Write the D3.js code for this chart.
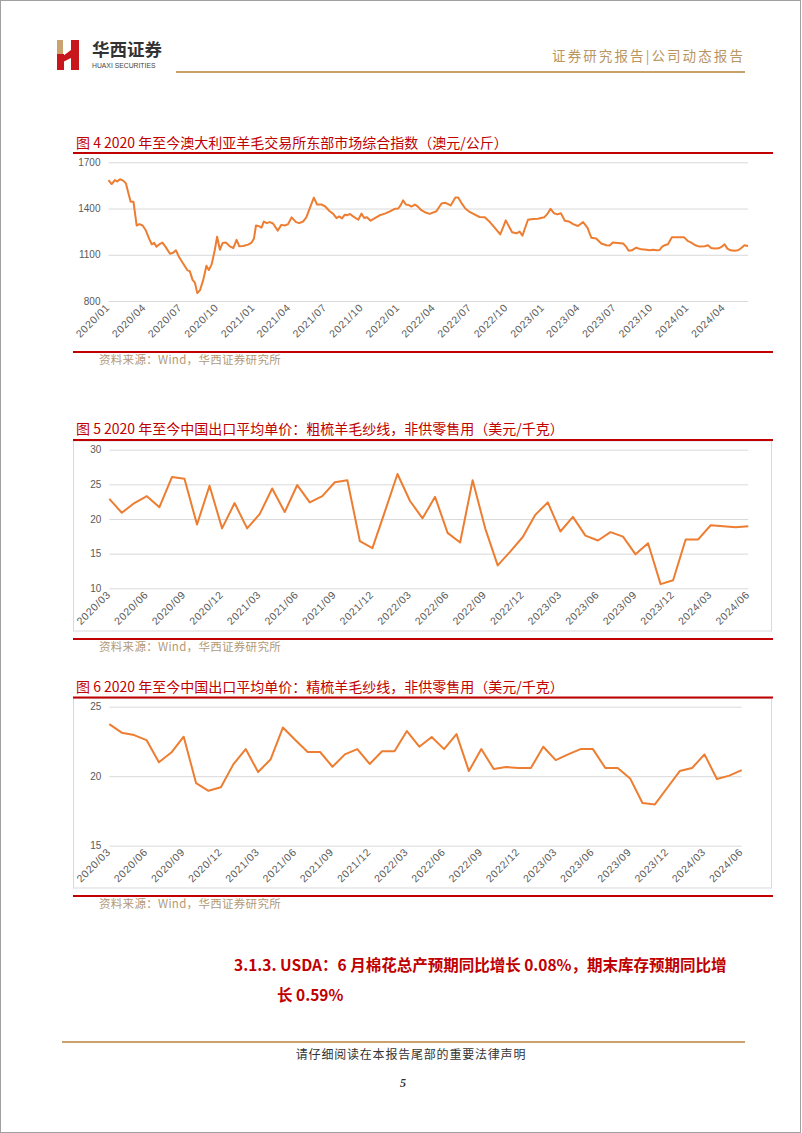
<!DOCTYPE html>
<html><head><meta charset="utf-8">
<script src="https://cdn.jsdelivr.net/npm/d3@7"></script>
<style>
html,body{margin:0;padding:0;background:#fff;}
svg{display:block;}
</style></head>
<body>
<script>
// ---------- DATA ----------
const emiDates = [
"2020-01-01","2020-01-09","2020-01-17","2020-01-23","2020-01-30","2020-02-07","2020-02-14","2020-02-22","2020-02-26","2020-03-04",
"2020-03-12","2020-03-19","2020-03-27","2020-04-04","2020-04-13","2020-04-19","2020-04-25","2020-05-01","2020-05-10","2020-05-16",
"2020-05-24","2020-06-04","2020-06-12","2020-06-19","2020-06-27","2020-07-08","2020-07-18","2020-07-24","2020-07-31","2020-08-06",
"2020-08-12","2020-08-19","2020-08-27","2020-09-04","2020-09-10","2020-09-17","2020-09-25","2020-10-01","2020-10-08","2020-10-15",
"2020-10-23","2020-11-02","2020-11-11","2020-11-19","2020-11-26","2020-12-06","2020-12-18","2020-12-27",
"2021-01-02","2021-01-07","2021-01-13","2021-01-21","2021-01-27","2021-02-03","2021-02-11","2021-02-19","2021-03-03","2021-03-12",
"2021-03-21","2021-03-29","2021-04-07","2021-04-18","2021-04-26","2021-05-06","2021-05-14","2021-05-23","2021-06-02","2021-06-10",
"2021-06-21","2021-06-30","2021-07-12","2021-07-21","2021-07-29","2021-08-05","2021-08-12","2021-08-19","2021-08-25","2021-09-01",
"2021-09-09","2021-09-22","2021-09-30","2021-10-07","2021-10-14","2021-10-23","2021-11-03","2021-11-15","2021-11-28","2021-12-11","2021-12-23",
"2022-01-01","2022-01-07","2022-01-13","2022-01-20","2022-01-28","2022-02-03","2022-02-12","2022-02-20","2022-02-28","2022-03-09",
"2022-03-21","2022-04-07","2022-04-20","2022-04-30","2022-05-13","2022-05-25","2022-06-01","2022-06-09","2022-06-19","2022-06-30",
"2022-07-13","2022-07-25","2022-08-07","2022-08-20","2022-09-01","2022-09-15","2022-09-22","2022-09-29","2022-10-05","2022-10-15",
"2022-10-26","2022-11-03","2022-11-10","2022-11-24","2022-12-07","2022-12-19",
"2023-01-04","2023-01-12","2023-01-20","2023-01-29","2023-02-06","2023-02-15","2023-02-25","2023-03-07","2023-03-18","2023-03-30",
"2023-04-12","2023-04-23","2023-05-03","2023-05-15","2023-05-28","2023-06-10","2023-06-18","2023-06-26","2023-07-09","2023-07-22",
"2023-07-30","2023-08-05","2023-08-13","2023-08-24","2023-09-06","2023-09-19","2023-09-27","2023-10-05","2023-10-14","2023-10-22",
"2023-10-28","2023-11-04","2023-11-12","2023-11-22","2023-12-07","2023-12-23",
"2024-01-02","2024-01-10","2024-01-20","2024-01-31","2024-02-13","2024-02-21","2024-02-29","2024-03-09","2024-03-19","2024-03-26",
"2024-04-03","2024-04-10","2024-04-18","2024-04-28","2024-05-07","2024-05-15","2024-05-23","2024-06-01"];
const emiValues = [
1585,1559,1585,1576,1590,1581,1563,1482,1444,1444,
1290,1299,1290,1259,1201,1168,1177,1153,1171,1179,
1151,1107,1113,1129,1085,1040,999,994,937,919,
851,871,937,1029,1001,1036,1129,1217,1133,1177,
1179,1155,1144,1197,1155,1157,1166,1179,
1206,1290,1287,1276,1316,1305,1312,1303,1257,1294,
1290,1299,1343,1312,1305,1316,1343,1404,1471,1426,
1426,1415,1382,1365,1338,1349,1336,1360,1356,1365,
1349,1327,1367,1338,1343,1321,1338,1356,1367,1382,1398,
1400,1422,1453,1426,1422,1413,1426,1411,1389,1376,
1365,1382,1433,1437,1420,1471,1471,1437,1400,1378,
1360,1345,1343,1312,1276,1232,1276,1323,1294,1246,
1239,1250,1224,1327,1332,1334,
1343,1365,1398,1369,1362,1369,1321,1316,1299,1287,
1312,1276,1210,1206,1173,1162,1160,1179,1177,1173,
1151,1126,1129,1146,1135,1133,1129,1133,1129,1131,
1151,1162,1168,1213,1213,1213,
1188,1179,1162,1153,1155,1162,1144,1140,1142,1151,
1168,1140,1129,1126,1129,1144,1162,1157];
const emiTickLabels = ["2020/01","2020/04","2020/07","2020/10","2021/01","2021/04","2021/07","2021/10","2022/01","2022/04","2022/07","2022/10","2023/01","2023/04","2023/07","2023/10","2024/01","2024/04"];
const emiYTicks = [800,1100,1400,1700];

const months = ["2020/03","2020/04","2020/05","2020/06","2020/07","2020/08","2020/09","2020/10","2020/11","2020/12",
"2021/01","2021/02","2021/03","2021/04","2021/05","2021/06","2021/07","2021/08","2021/09","2021/10","2021/11","2021/12",
"2022/01","2022/02","2022/03","2022/04","2022/05","2022/06","2022/07","2022/08","2022/09","2022/10","2022/11","2022/12",
"2023/01","2023/02","2023/03","2023/04","2023/05","2023/06","2023/07","2023/08","2023/09","2023/10","2023/11","2023/12",
"2024/01","2024/02","2024/03","2024/04","2024/05","2024/06"];
const monthTickLabels = ["2020/03","2020/06","2020/09","2020/12","2021/03","2021/06","2021/09","2021/12","2022/03","2022/06","2022/09","2022/12","2023/03","2023/06","2023/09","2023/12","2024/03","2024/06"];
const carded = [22.9,20.9,22.3,23.3,21.7,26.05,25.8,19.2,24.8,18.65,22.3,18.65,20.7,24.4,21.0,24.9,22.4,23.3,25.3,25.6,16.8,15.8,21.1,26.5,22.6,20.1,
23.2,18.0,16.6,25.6,18.65,13.3,15.3,17.4,20.6,22.4,18.2,20.3,17.6,16.9,18.1,17.45,14.9,16.5,10.6,11.15,17.05,17.05,19.1,18.95,18.8,18.95];
const cardedYTicks = [10,15,20,25,30];
const combed = [23.75,23.13,22.96,22.6,21.0,21.7,22.84,19.5,18.95,19.2,20.85,21.95,20.3,21.2,23.5,22.6,21.74,21.74,20.68,21.57,21.95,20.88,21.8,21.8,23.25,22.12,
22.82,21.95,23.03,20.37,21.95,20.52,20.66,20.59,20.59,22.12,21.16,21.57,21.95,21.95,20.59,20.59,19.84,18.07,17.97,19.17,20.37,20.59,21.57,19.8,20.04,20.44];
const combedYTicks = [15,20,25];

const titles = [
  "图 4 2020 年至今澳大利亚羊毛交易所东部市场综合指数（澳元/公斤）",
  "图 5 2020 年至今中国出口平均单价：粗梳羊毛纱线，非供零售用（美元/千克）",
  "图 6 2020 年至今中国出口平均单价：精梳羊毛纱线，非供零售用（美元/千克）"
];
const sourceText = "资料来源：Wind，华西证券研究所";

// ---------- DRAW ----------
const W = 802, H = 1133;
const RED = "#c00000", ORANGE = "#ed7d31", GRID = "#d9d9d9", TAN = "#c8a16b", AXT = "#595959";
const CJK = "'Noto Sans CJK SC','Noto Sans',sans-serif";
const SANS = "'Liberation Sans',Arial,sans-serif";

const svg = d3.select("body").append("svg").attr("width", W).attr("height", H);
svg.append("rect").attr("x",0).attr("y",0).attr("width",W).attr("height",H).attr("fill","#fff");
svg.append("rect").attr("x",0.5).attr("y",0.5).attr("width",W-2).attr("height",H-1).attr("fill","none").attr("stroke","#a0a0a0");

// header
const logo = svg.append("g");
logo.append("rect").attr("x",57).attr("y",40).attr("width",6).attr("height",16).attr("fill","#c9a46e");
logo.append("rect").attr("x",57).attr("y",54).attr("width",7).attr("height",16).attr("fill","#c8161d");
logo.append("path").attr("d","M63,56 L71,50 L71,40 L79,40 L79,70 L71,70 L71,58 L63,62 Z").attr("fill","#c8161d");
svg.append("text").attr("x",92).attr("y",56).attr("font-family",CJK).attr("font-weight",700).attr("font-size",17.5).attr("fill","#333").text("华西证券");
svg.append("text").attr("x",92).attr("y",68).attr("font-family",SANS).attr("font-size",6.8).attr("fill","#444").text("HUAXI SECURITIES");
svg.append("text").attr("x",745).attr("y",61).attr("text-anchor","end").attr("font-family",CJK).attr("font-size",13.5).attr("letter-spacing",2.1).attr("fill","#b9955f").text("证券研究报告|公司动态报告");
svg.append("line").attr("x1",176).attr("x2",745).attr("y1",72).attr("y2",72).attr("stroke",TAN).attr("stroke-width",2);

function frame(c){
  svg.append("text").attr("x",76).attr("y",c.titleY).attr("font-family",CJK).attr("font-size",14).attr("fill",RED).attr("letter-spacing",0).text(c.title);
  if (c.box) svg.append("rect").attr("x",73.5).attr("y",c.box[0]).attr("width",698).attr("height",c.box[1]-c.box[0]).attr("fill","none").attr("stroke",GRID);
  svg.append("line").attr("x1",73).attr("x2",773).attr("y1",c.redTop).attr("y2",c.redTop).attr("stroke",RED).attr("stroke-width",2);
  svg.append("line").attr("x1",73).attr("x2",773).attr("y1",c.redBot).attr("y2",c.redBot).attr("stroke",RED).attr("stroke-width",2);
  svg.append("text").attr("x",99).attr("y",c.srcY).attr("font-family",CJK).attr("font-size",11.5).attr("letter-spacing",0.3).attr("fill","#b39a76").text(sourceText);
}

function yAxis(y, ticks, x0, x1){
  const g = svg.append("g").attr("transform",`translate(${x0},0)`)
    .call(d3.axisLeft(y).tickValues(ticks).tickSize(-(x1-x0)).tickPadding(8).tickFormat(d3.format("d")));
  g.select(".domain").remove();
  g.selectAll(".tick line").attr("stroke",GRID);
  g.selectAll(".tick text").attr("font-family",SANS).attr("font-size",10).attr("fill",AXT);
}
function xLabels(x, vals, labels, yBase){
  const g = svg.append("g");
  g.selectAll("text").data(vals).join("text")
    .attr("transform",(d,i)=>`translate(${x(d)+2},${yBase+7}) rotate(-45)`)
    .attr("text-anchor","end").attr("font-family",SANS).attr("font-size",10.5).attr("letter-spacing",0.7).attr("fill",AXT)
    .text((d,i)=>labels[i]);
}

// Chart 4
frame({title:titles[0], titleY:147.5, redTop:153, redBot:352, srcY:364});
{
  const parse = d3.timeParse("%Y-%m-%d"), pm = d3.timeParse("%Y/%m");
  const data = emiDates.map((d,i)=>({d:parse(d), v:emiValues[i]}));
  const x = d3.scaleTime().domain(d3.extent(data,d=>d.d)).range([108.5,748]);
  const y = d3.scaleLinear().domain([800,1700]).range([301,162.3]);
  yAxis(y, emiYTicks, 108.5, 748);
  xLabels(x, emiTickLabels.map(pm), emiTickLabels, 301);
  svg.append("path").datum(data).attr("fill","none").attr("stroke",ORANGE).attr("stroke-width",2).attr("stroke-linejoin","round")
    .attr("d", d3.line().x(d=>x(d.d)).y(d=>y(d.v)));
}

// Chart 5
frame({title:titles[1], titleY:434, redTop:440, redBot:639, srcY:651, box:[441,631]});
{
  const x = d3.scalePoint().domain(months).range([109.3,748.3]);
  const y = d3.scaleLinear().domain([10,30]).range([588.3,449.7]);
  yAxis(y, cardedYTicks, 109.3, 748.3);
  xLabels(x, monthTickLabels, monthTickLabels, 588.3);
  svg.append("path").datum(carded).attr("fill","none").attr("stroke",ORANGE).attr("stroke-width",2).attr("stroke-linejoin","round")
    .attr("d", d3.line().x((d,i)=>x(months[i])).y(d=>y(d)));
}

// Chart 6
frame({title:titles[2], titleY:691.5, redTop:697.5, redBot:896, srcY:907.5, box:[698.5,888]});
{
  const x = d3.scalePoint().domain(months).range([109.3,741.7]);
  const y = d3.scaleLinear().domain([15,25]).range([845.7,706.7]);
  yAxis(y, combedYTicks, 109.3, 741.7);
  xLabels(x, monthTickLabels, monthTickLabels, 845.7);
  svg.append("path").datum(combed).attr("fill","none").attr("stroke",ORANGE).attr("stroke-width",2).attr("stroke-linejoin","round")
    .attr("d", d3.line().x((d,i)=>x(months[i])).y(d=>y(d)));
}

// section heading
svg.append("text").attr("x",234).attr("y",971).attr("font-family",CJK).attr("font-weight",700).attr("font-size",15.5).attr("fill",RED)
  .text("3.1.3. USDA：6 月棉花总产预期同比增长 0.08%，期末库存预期同比增");
svg.append("text").attr("x",277).attr("y",1001).attr("font-family",CJK).attr("font-weight",700).attr("font-size",15.5).attr("fill",RED)
  .text("长 0.59%");

// footer
svg.append("line").attr("x1",62).attr("x2",745).attr("y1",1042).attr("y2",1042).attr("stroke",TAN).attr("stroke-width",2);
svg.append("text").attr("x",411).attr("y",1059).attr("text-anchor","middle").attr("font-family",CJK).attr("font-size",12).attr("letter-spacing",0.8).attr("fill","#333").text("请仔细阅读在本报告尾部的重要法律声明");
svg.append("text").attr("x",403).attr("y",1087).attr("text-anchor","middle").attr("font-family","'Liberation Serif',serif").attr("font-style","italic").attr("font-weight",700).attr("font-size",12).attr("fill","#333").text("5");
</script>
</body></html>
